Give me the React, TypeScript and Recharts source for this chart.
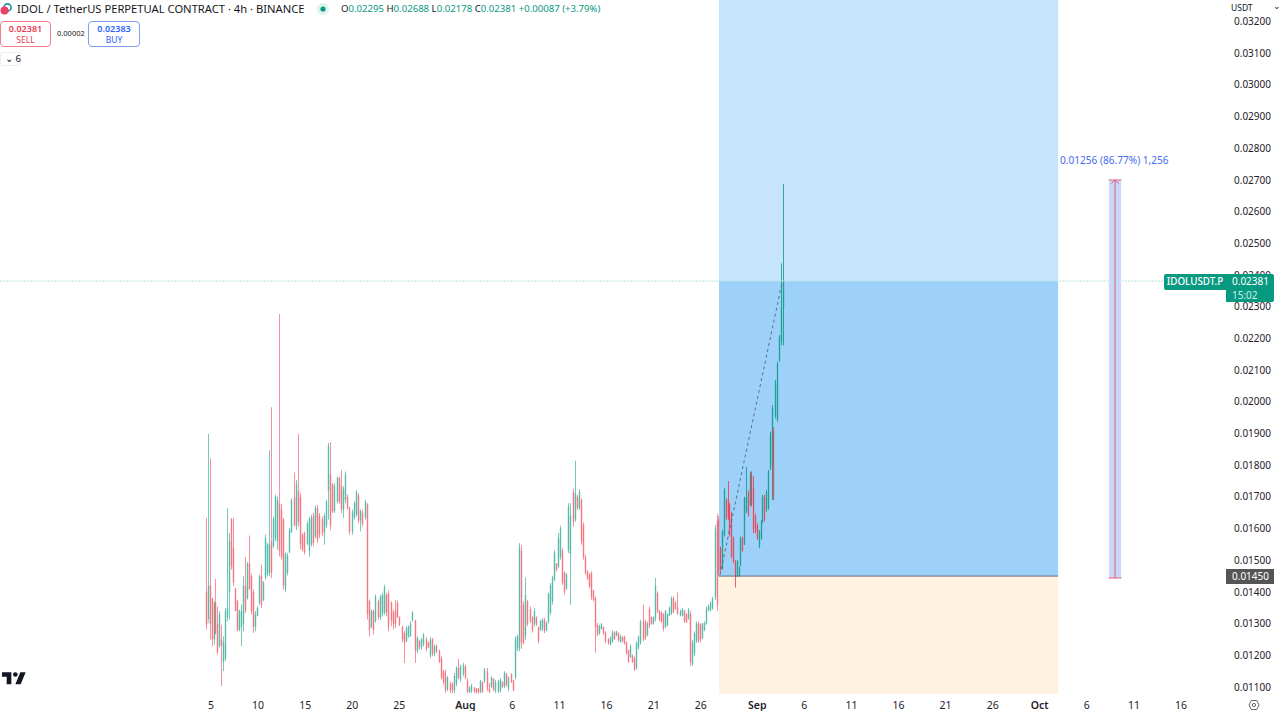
import React from 'react'
import { Bar, ComposedChart, ReferenceArea, ReferenceLine, XAxis, YAxis } from 'recharts'

// prices are in 0.00001 units, one entry per candle
const opens = [
  1400,1300,1420,1380,1250,1365,1300,1230,1250,1180,
  1190,1320,1400,1630,1540,1410,1370,1280,1290,1300,
  1420,1380,1490,1450,1400,1290,1325,1365,1450,1375,
  1445,1455,1460,1560,1545,1570,1560,1680,1660,1630,
  1410,1460,1525,1590,1700,1610,1720,1700,1580,1585,
  1550,1530,1550,1640,1575,1665,1640,1630,1590,1610,
  1720,1770,1740,1655,1685,1760,1735,1660,1690,1700,
  1665,1590,1635,1645,1705,1625,1650,1635,1675,1370,
  1290,1340,1310,1370,1320,1330,1335,1390,1395,1365,
  1335,1340,1365,1320,1290,1270,1245,1260,1262,1310,
  1310,1215,1245,1225,1235,1250,1240,1200,1250,1205,
  1230,1215,1190,1150,1145,1092,1110,1110,1090,1110,
  1160,1125,1140,1165,1120,1085,1088,1098,1095,1095,
  1085,1115,1118,1150,1095,1100,1125,1088,1085,1090,
  1115,1102,1140,1095,1140,1120,1130,1220,1225,1530,
  1360,1260,1370,1345,1320,1300,1320,1288,1280,1285,
  1312,1280,1305,1335,1370,1440,1490,1480,1510,1530,
  1460,1410,1530,1520,1715,1630,1700,1665,1690,1610,
  1510,1465,1455,1460,1405,1380,1295,1270,1283,1288,
  1272,1250,1235,1245,1272,1262,1270,1242,1258,1258,
  1240,1215,1195,1200,1190,1160,1225,1240,1310,1305,
  1265,1345,1320,1300,1315,1395,1340,1335,1330,1290,
  1295,1326,1332,1380,1365,1350,1326,1326,1340,1330,
  1316,1330,1172,1205,1245,1300,1298,1255,1280,1300,
  1342,1342,1348,1385,1625,1630,1535,1475,1580,1690,
  1690,1675,1645,1570,1495,1452,1453,1485,1570,1552,
  1655,1715,1675,1770,1730,1640,1610,1545,1570,1622,
  1700,1658,1665,1790,1800,1910,1955,1945,2130,2190,2295,
]
const highs = [
  1633,1899,1822,1381,1371,1441,1355,1339,1297,1260,
  1350,1665,1586,1633,1633,1413,1376,1344,1360,1449,
  1510,1494,1578,1458,1407,1339,1355,1455,1486,1434,
  1581,1555,1848,1983,1638,1707,1701,2277,1678,1633,
  1525,1523,1602,1696,1777,1754,1899,1712,1586,1591,
  1623,1638,1644,1649,1672,1675,1649,1638,1649,1691,
  1870,1873,1743,1743,1764,1764,1785,1733,1780,1707,
  1670,1660,1686,1722,1712,1660,1660,1691,1680,1376,
  1344,1344,1392,1376,1391,1397,1423,1397,1405,1370,
  1344,1375,1373,1323,1294,1276,1292,1294,1307,1339,
  1312,1260,1249,1255,1270,1258,1244,1258,1255,1234,
  1234,1218,1197,1155,1155,1134,1118,1115,1144,1165,
  1188,1170,1176,1170,1128,1102,1110,1100,1097,1097,
  1123,1118,1160,1160,1113,1134,1128,1123,1123,1128,
  1118,1150,1144,1134,1144,1123,1260,1265,1554,1548,
  1370,1446,1375,1354,1323,1349,1323,1291,1312,1318,
  1318,1307,1398,1428,1451,1531,1491,1585,1609,1538,
  1465,1460,1680,1680,1724,1814,1706,1724,1696,1619,
  1517,1468,1460,1465,1407,1386,1302,1297,1302,1291,
  1276,1255,1260,1279,1276,1278,1272,1265,1260,1262,
  1244,1218,1234,1202,1197,1244,1262,1312,1360,1312,
  1307,1354,1323,1323,1444,1402,1344,1339,1333,1344,
  1333,1354,1386,1386,1370,1399,1344,1349,1344,1333,
  1349,1339,1249,1276,1307,1307,1302,1302,1307,1354,
  1360,1370,1384,1612,1648,1640,1543,1596,1727,1696,
  1750,1680,1654,1575,1501,1501,1480,1575,1575,1700,
  1795,1720,1780,1780,1764,1648,1617,1596,1627,1706,
  1706,1722,1785,1906,1990,1920,2069,2127,2211,2437,2688,
]
const lows = [
  1281,1313,1250,1229,1234,1266,1203,1224,1103,1150,
  1182,1308,1313,1470,1418,1339,1276,1276,1229,1276,
  1334,1376,1407,1329,1271,1276,1323,1360,1350,1371,
  1439,1449,1449,1444,1539,1560,1534,1512,1502,1407,
  1399,1452,1523,1586,1607,1596,1607,1534,1528,1518,
  1549,1512,1544,1544,1570,1555,1570,1575,1549,1602,
  1628,1596,1649,1649,1680,1678,1649,1633,1680,1660,
  1581,1581,1628,1638,1618,1591,1607,1628,1313,1260,
  1286,1266,1303,1313,1312,1323,1328,1323,1276,1292,
  1281,1286,1318,1292,1241,1176,1241,1255,1258,1307,
  1176,1207,1218,1218,1228,1213,1223,1192,1197,1197,
  1207,1176,1124,1108,1081,1087,1081,1081,1081,1102,
  1124,1117,1134,1124,1081,1081,1081,1081,1079,1079,
  1081,1081,1113,1087,1081,1097,1087,1081,1081,1083,
  1097,1097,1102,1087,1113,1087,1124,1213,1213,1220,
  1234,1249,1292,1302,1272,1292,1292,1238,1276,1276,
  1270,1276,1301,1328,1360,1433,1465,1475,1502,1423,
  1391,1407,1523,1360,1606,1622,1659,1659,1549,1502,
  1454,1438,1412,1375,1370,1208,1260,1265,1281,1265,
  1239,1234,1231,1239,1249,1260,1244,1239,1241,1234,
  1202,1176,1192,1176,1150,1155,1218,1234,1244,1249,
  1260,1286,1297,1297,1307,1333,1307,1302,1276,1286,
  1292,1323,1328,1333,1344,1328,1323,1323,1302,1302,
  1312,1166,1166,1197,1239,1239,1241,1251,1276,1297,
  1339,1339,1344,1375,1340,1450,1464,1470,1575,1627,
  1627,1575,1506,1490,1414,1448,1450,1480,1527,1548,
  1648,1638,1670,1670,1585,1585,1564,1538,1564,1617,
  1622,1653,1659,1785,1690,1690,1948,1937,2127,2179,2178,
]
const closes = [
  1300,1420,1300,1250,1365,1270,1210,1330,1230,1240,
  1340,1350,1560,1480,1430,1340,1280,1340,1340,1420,
  1340,1490,1410,1340,1290,1330,1350,1450,1360,1430,
  1570,1550,1550,1460,1630,1700,1690,1530,1510,1420,
  1520,1515,1595,1690,1610,1740,1620,1550,1535,1525,
  1615,1630,1635,1555,1665,1565,1580,1585,1640,1685,
  1860,1610,1655,1735,1760,1685,1660,1725,1770,1665,
  1590,1650,1680,1715,1625,1655,1615,1685,1330,1280,
  1340,1280,1385,1320,1385,1390,1415,1335,1290,1310,
  1300,1300,1320,1295,1250,1240,1285,1290,1300,1335,
  1215,1255,1225,1250,1265,1220,1228,1250,1205,1228,
  1212,1180,1130,1115,1090,1130,1088,1090,1135,1160,
  1130,1165,1170,1130,1085,1098,1105,1085,1084,1084,
  1118,1085,1155,1095,1085,1130,1092,1115,1118,1122,
  1100,1145,1105,1130,1115,1090,1250,1260,1540,1240,
  1240,1390,1300,1310,1280,1340,1298,1245,1308,1312,
  1278,1302,1395,1420,1445,1525,1470,1570,1600,1430,
  1400,1455,1670,1640,1620,1710,1665,1715,1560,1510,
  1460,1442,1418,1385,1375,1290,1265,1292,1298,1270,
  1245,1238,1255,1272,1252,1275,1248,1260,1245,1238,
  1208,1180,1228,1180,1155,1238,1258,1305,1250,1255,
  1300,1295,1300,1320,1420,1340,1312,1308,1285,1340,
  1330,1350,1380,1338,1348,1332,1340,1345,1308,1305,
  1345,1180,1240,1270,1300,1245,1250,1298,1302,1345,
  1355,1365,1380,1600,1360,1460,1470,1590,1720,1632,
  1635,1580,1512,1495,1450,1495,1475,1570,1530,1695,
  1700,1645,1770,1680,1600,1590,1570,1590,1620,1700,
  1630,1715,1780,1900,1980,1700,2060,2120,2205,2295,2381,
]

// x axis is days counted from 1 July; a few candles are pinned to the day they were read at
const pinnedCandles = [0, 37, 78, 148, 175, 244, 280]
const pinnedDays = [4.47, 12.22, 21.57, 37.78, 43.65, 58.73, 65.74]

const dayTicks = [5, 10, 15, 20, 25, 32, 37, 42, 47, 52, 57, 63, 68, 73, 78, 83, 88, 93, 98, 103, 108]
const dayLabels = ['5', '10', '15', '20', '25', 'Aug', '6', '11', '16', '21', '26', 'Sep', '6', '11', '16', '21', '26', 'Oct', '6', '11', '16']
const priceTicks = [1100, 1200, 1300, 1400, 1500, 1600, 1700, 1800, 1900, 2000, 2100, 2200, 2300, 2400, 2500, 2600, 2700, 2800, 2900, 3000, 3100, 3200]

const LAST_PRICE = 2381
const STOP_PRICE = 1450
const RANGE_LOW = 1444
const RANGE_HIGH = 2700
const BOX_LEFT = 58.94
const BOX_RIGHT = 94.95
const MEASURE_DAY = 101

const UP = '#089981'
const DOWN = '#f23645'
const FONT = '"Noto Sans", sans-serif'

const dayOfCandle = (i: number) => {
  let k = 0
  while (k < pinnedCandles.length - 2 && i > pinnedCandles[k + 1]) k++
  const span = pinnedCandles[k + 1] - pinnedCandles[k]
  return pinnedDays[k] + ((i - pinnedCandles[k]) / span) * (pinnedDays[k + 1] - pinnedDays[k])
}

const rows = opens.map((open, i) => ({
  time: dayOfCandle(i),
  open,
  high: highs[i],
  low: lows[i],
  close: closes[i],
  range: [lows[i], highs[i]],
}))

const Candle = (props: any) => {
  const { x, y, width, height, payload } = props
  const color = payload.close >= payload.open ? UP : DOWN
  const perUnit = height / (payload.high - payload.low)
  const cx = Math.round(x + width / 2) + 0.5
  const bodyTop = y + (payload.high - Math.max(payload.open, payload.close)) * perUnit
  const bodyHeight = Math.max(Math.abs(payload.open - payload.close) * perUnit, 1)
  // candles inside the blue box read stronger than those on white
  const wickOpacity = payload.time > BOX_LEFT ? 0.8 : 0.55
  return (
    <g>
      <line x1={cx} x2={cx} y1={y} y2={y + height} stroke={color} strokeOpacity={wickOpacity} strokeWidth={1} />
      <rect x={cx - 1} y={bodyTop} width={2} height={bodyHeight} fill={color} fillOpacity={0.28} />
    </g>
  )
}

const DayTick = ({ x, y, payload }: any) => {
  const label = dayLabels[dayTicks.indexOf(payload.value)]
  const isMonth = label.length === 3
  return (
    <text x={x} y={y + 7} textAnchor="middle" fontSize={10.5} fontFamily={FONT} fontWeight={isMonth ? 600 : 400} fill="#1f222b">
      {label}
    </text>
  )
}

const place = (left: number, top: number, extra: any = {}): any => ({
  position: 'absolute',
  left,
  top,
  fontFamily: FONT,
  whiteSpace: 'nowrap',
  ...extra,
})

const Header = () => (
  <>
    <svg style={place(0, 3)} width={14} height={14}>
      <circle cx={7.5} cy={4.5} r={3.6} fill="none" stroke="#1f8f9f" strokeWidth={1.6} />
      <circle cx={4.5} cy={7.5} r={4} fill="#ef3f66" />
    </svg>
    <div style={place(17, 0, { fontSize: 11.2, lineHeight: '17px', color: '#131722' })}>
      IDOL / TetherUS PERPETUAL CONTRACT · 4h · BINANCE
    </div>
    <svg style={place(316, 2)} width={14} height={14}>
      <circle cx={7} cy={7} r={6} fill="#dff3ef" />
      <circle cx={7} cy={7} r={2.6} fill={UP} />
    </svg>
    <div style={place(341, 0, { fontSize: 9.6, lineHeight: '17px', color: UP })}>
      <span style={{ color: '#131722' }}>O</span>0.02295{' '}
      <span style={{ color: '#131722' }}>H</span>0.02688{' '}
      <span style={{ color: '#131722' }}>L</span>0.02178{' '}
      <span style={{ color: '#131722' }}>C</span>0.02381 +0.00087 (+3.79%)
    </div>
    <div style={place(0, 21, { width: 49, height: 23, border: '1px solid #f0808e', borderRadius: 4, background: '#fff', color: '#e8394f', textAlign: 'center', fontSize: 9, lineHeight: '11px', paddingTop: 1 })}>
      <div style={{ fontWeight: 600 }}>0.02381</div>
      <div style={{ fontSize: 8.5 }}>SELL</div>
    </div>
    <div style={place(57, 27, { fontSize: 7.5, lineHeight: '12px', color: '#131722' })}>0.00002</div>
    <div style={place(88, 21, { width: 50, height: 23, border: '1px solid #7f9df2', borderRadius: 4, background: '#fff', color: '#2962ff', textAlign: 'center', fontSize: 9, lineHeight: '11px', paddingTop: 1 })}>
      <div style={{ fontWeight: 600 }}>0.02383</div>
      <div style={{ fontSize: 8.5 }}>BUY</div>
    </div>
    <div style={place(0, 52, { width: 21, height: 14, border: '1px solid #eceef2', boxSizing: 'border-box', borderRadius: 2, fontSize: 9.5, lineHeight: '12px', color: '#131722', paddingLeft: 4 })}>
      ⌄ 6
    </div>
  </>
)

const PriceScaleLabels = () => (
  <>
    <div style={place(1229, 0, { width: 50, height: 14, fontSize: 8.5, lineHeight: '15px', color: '#131722', background: '#fff', paddingLeft: 2, boxSizing: 'border-box' })}>
      USDT
      <span style={{ position: 'absolute', left: 44, top: -2 }}>⌄</span>
    </div>
    <div style={place(1164, 274, { width: 62, height: 16, background: UP, color: '#fff', fontSize: 9.8, lineHeight: '16px', textAlign: 'center', fontWeight: 500, borderRadius: '2px 0 0 2px' })}>
      IDOLUSDT.P
    </div>
    <div style={place(1226, 274, { width: 48, height: 28, background: UP, color: '#fff', fontSize: 10, lineHeight: '13.5px', paddingLeft: 6, boxSizing: 'border-box', paddingTop: 1, borderRadius: '0 2px 2px 0' })}>
      <div>0.02381</div>
      <div style={{ color: '#cdeee6' }}>15:02</div>
    </div>
    <div style={place(1226, 569, { width: 48, height: 15, background: '#555', color: '#fff', fontSize: 10, lineHeight: '15px', paddingLeft: 6, boxSizing: 'border-box' })}>
      0.01450
    </div>
    <div style={place(1060, 153, { fontSize: 10.1, lineHeight: '15px', color: '#3f6bf0' })}>
      0.01256 (86.77%) 1,256
    </div>
    <svg style={place(2, 672)} width={24} height={13} viewBox="0 0 36 19">
      <path d="M14 18H7V7H0V0h14v18zM28 18h-8l7.5-18h8L28 18z" fill="#131722" />
      <circle cx={20} cy={3.5} r={3.5} fill="#131722" />
    </svg>
    <svg style={place(1248, 699)} width={12} height={12} viewBox="0 0 12 12">
      <path d="M3.3 1.5h5.4L11 6 8.7 10.5H3.3L1 6z" fill="none" stroke="#555" strokeWidth={0.9} />
      <circle cx={6} cy={6} r={1.6} fill="none" stroke="#555" strokeWidth={0.9} />
    </svg>
  </>
)

const App = () => (
  <div style={{ position: 'absolute', left: 0, top: 0, width: 1280, height: 711, overflow: 'hidden', background: '#fff' }}>
    <ComposedChart width={1280} height={711} data={rows} margin={{ top: 0, right: 0, bottom: 0, left: 0 }}>
      <XAxis
        dataKey="time"
        type="number"
        domain={[-17.41, 112.78]}
        ticks={dayTicks}
        interval={0}
        height={17}
        axisLine={false}
        tickLine={false}
        tick={<DayTick />}
        allowDataOverflow
      />
      <YAxis
        orientation="right"
        width={54}
        domain={[1078, 3268]}
        ticks={priceTicks}
        interval={0}
        axisLine={false}
        tickLine={false}
        tickMargin={2}
        tick={{ fontSize: 10, fontFamily: FONT, fill: '#1f222b' }}
        tickFormatter={(v: number) => (v / 100000).toFixed(5)}
        allowDataOverflow
      />
      <ReferenceArea x1={BOX_LEFT} x2={BOX_RIGHT} y1={LAST_PRICE} y2={3268} fill="#c6e4fc" fillOpacity={1} stroke="none" />
      <ReferenceArea x1={BOX_LEFT} x2={BOX_RIGHT} y1={STOP_PRICE} y2={LAST_PRICE} fill="#9ed1f9" fillOpacity={1} stroke="none" />
      <ReferenceArea x1={BOX_LEFT} x2={BOX_RIGHT} y1={1078} y2={STOP_PRICE} fill="#fff2e1" fillOpacity={1} stroke="none" />
      <ReferenceArea x1={MEASURE_DAY - 0.64} x2={MEASURE_DAY + 0.64} y1={RANGE_LOW} y2={RANGE_HIGH} fill="#c9d8fa" fillOpacity={1} stroke="none" />
      <ReferenceLine y={LAST_PRICE} stroke="#b5e6dc" strokeWidth={1} strokeDasharray="2 1" />
      <ReferenceLine segment={[{ x: BOX_LEFT, y: STOP_PRICE }, { x: BOX_RIGHT, y: STOP_PRICE }]} stroke="#4a4f58" strokeWidth={0.8} />
      <ReferenceLine segment={[{ x: MEASURE_DAY, y: RANGE_LOW }, { x: MEASURE_DAY, y: RANGE_HIGH }]} stroke="#e8627c" strokeWidth={1} />
      <ReferenceLine segment={[{ x: MEASURE_DAY - 0.7, y: RANGE_LOW }, { x: MEASURE_DAY + 0.7, y: RANGE_LOW }]} stroke="#e8627c" strokeWidth={1} />
      <ReferenceLine segment={[{ x: MEASURE_DAY - 0.7, y: RANGE_HIGH }, { x: MEASURE_DAY + 0.7, y: RANGE_HIGH }]} stroke="#e8627c" strokeWidth={1} />
      <ReferenceLine segment={[{ x: MEASURE_DAY - 0.4, y: 2688 }, { x: MEASURE_DAY, y: RANGE_HIGH }]} stroke="#e8627c" strokeWidth={1} />
      <ReferenceLine segment={[{ x: MEASURE_DAY + 0.4, y: 2688 }, { x: MEASURE_DAY, y: RANGE_HIGH }]} stroke="#e8627c" strokeWidth={1} />
      <Bar dataKey="range" barSize={1} shape={<Candle />} isAnimationActive={false} />
      <ReferenceLine segment={[{ x: 59.05, y: 1454 }, { x: 65.63, y: 2375 }]} stroke="#5f6b8a" strokeWidth={1} strokeDasharray="3 3" />
    </ComposedChart>
    <Header />
    <PriceScaleLabels />
  </div>
)

export default App
